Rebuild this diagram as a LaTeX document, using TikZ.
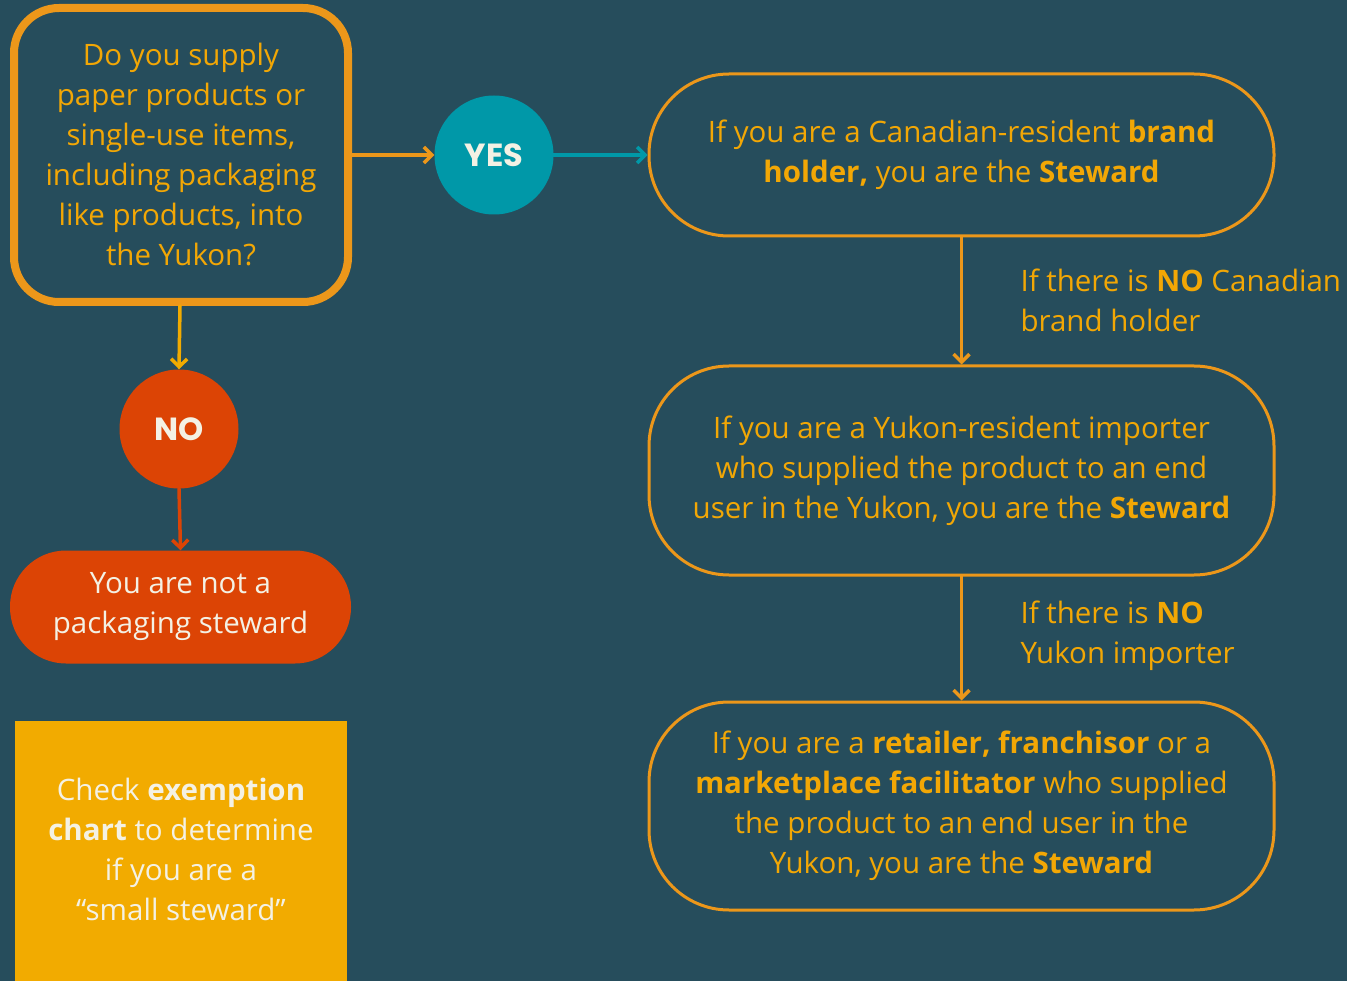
\documentclass[tikz,border=0pt]{standalone}
\usepackage{fontspec}
\setmainfont{Open Sans}
\newfontfamily\yesfont{Poppins}
\usetikzlibrary{arrows.meta}
\definecolor{bg}{HTML}{264D5C}
\definecolor{orng}{HTML}{EC971A}
\definecolor{otext}{HTML}{F2A705}
\definecolor{teal}{HTML}{0098A8}
\definecolor{redo}{HTML}{DC4405}
\definecolor{yel}{HTML}{F2AB00}
\definecolor{cream}{HTML}{F4F1E4}
\tikzset{
  txt/.style={font=\fontsize{29.5}{40}\selectfont, align=center},
  qbox/.style={draw=orng, line width=8pt, rounded corners=45pt, minimum width=334pt, minimum height=294pt, text=otext, txt},
  sbox/.style={draw=orng, line width=3pt, rounded corners=80pt, minimum width=625pt, text=otext, txt},
  circ/.style={circle, minimum size=119pt, inner sep=0pt, text=cream, font=\yesfont\bfseries\fontsize{32}{34}\selectfont},
  arr/.style={line width=3.5pt, line cap=round, -{Straight Barb[length=8pt, width=16pt, line width=3.5pt]}},
  lbl/.style={anchor=west, align=left, text=otext, font=\fontsize{29.5}{40}\selectfont}
}
\begin{document}
\begin{tikzpicture}[x=1pt, y=-1pt]
\useasboundingbox[fill=bg] (0,0) rectangle (1347,981);

\node[qbox] (q) at (181,155) {Do you supply\\paper products or\\single-use items,\\including packaging\\like products, into\\the Yukon?};

\node[circ, fill=teal] (yes) at (494,155) {YES};
\node[circ, fill=redo] (no) at (179,429) {NO};

\node[fill=redo, rounded corners=56pt, minimum width=341pt, minimum height=113pt, text=cream, txt] (ns) at (180.5,607) {You are not a\\packaging steward};

\node[fill=yel, minimum width=332pt, minimum height=262pt, text=cream, txt, text depth=0pt] (ex) at (181,852) {};
\node[text=cream, txt] (ext) at (181,849) {Check \textbf{exemption}\\\textbf{chart} to determine\\if you are a\\``small steward''};

\node[sbox, minimum height=162pt] (r1) at (961.5,155) {If you are a Canadian-resident \textbf{brand}\\\textbf{holder,} you are the \textbf{Steward}};
\node[sbox, minimum height=209pt] (r2) at (961.5,470.5) {If you are a Yukon-resident importer\\who supplied the product to an end\\user in the Yukon, you are the \textbf{Steward}};
\node[sbox, minimum height=208pt] (r3) at (961.5,806) {If you are a \textbf{retailer, franchisor} or a\\\textbf{marketplace facilitator} who supplied\\the product to an end user in the\\Yukon, you are the \textbf{Steward}};

\node[lbl] (l1) at (1017,300) {If there is \textbf{NO} Canadian\\brand holder};
\node[lbl] (l2) at (1017,636) {If there is \textbf{NO}\\Yukon importer};

\draw[arr, draw=orng] (q.east) -- (yes.west);
\draw[arr, draw=teal] (yes.east) -- (r1.west);
\draw[arr, draw=yel] ([xshift=-1pt]q.south) -- (no.north);
\draw[arr, draw=redo] (no.south) -- (ns.north);
\draw[arr, draw=orng] (r1.south) -- (r2.north);
\draw[arr, draw=orng] (r2.south) -- (r3.north);
\end{tikzpicture}
\end{document}
